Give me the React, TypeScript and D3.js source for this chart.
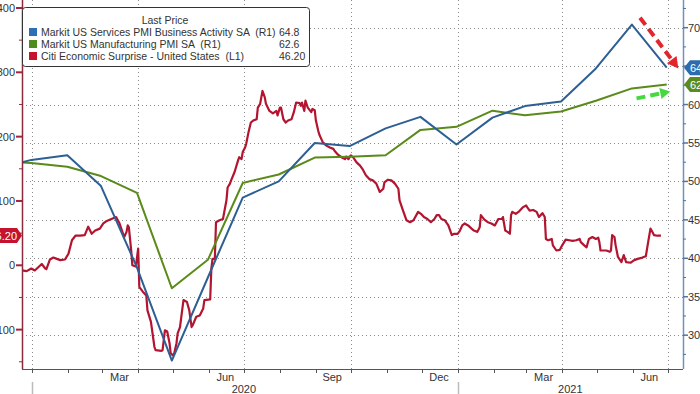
import React, { useEffect } from "react";
import * as d3 from "d3";

const W = 700;
const H = 394;

// Monthly PMI readings (plotted at month end)
const pmiDates = [
  "2019-11-30", "2019-12-31", "2020-01-31", "2020-02-29", "2020-03-31", "2020-04-30",
  "2020-05-31", "2020-06-30", "2020-07-31", "2020-08-31", "2020-09-30", "2020-10-31",
  "2020-11-30", "2020-12-31", "2021-01-31", "2021-02-28", "2021-03-31", "2021-04-30",
  "2021-05-31", "2021-06-30",
];
const servicesPMI = [51.6, 52.8, 53.4, 49.4, 38.8, 26.7, 37.5, 47.9, 50.0, 55.0, 54.6, 56.9, 58.4, 54.8, 58.3, 59.8, 60.4, 64.7, 70.4, 64.8];
const manufacturingPMI = [52.6, 52.4, 51.9, 50.7, 48.5, 36.1, 39.8, 49.8, 50.9, 53.1, 53.2, 53.4, 56.7, 57.1, 59.2, 58.6, 59.1, 60.5, 62.1, 62.6];

// Citi Economic Surprise Index - United States (daily)
const citiSurprise: [string, number][] = [
  ["2019-12-23", -8], ["2019-12-27", -9], ["2019-12-31", -5], ["2020-01-03", -8], ["2020-01-06", -3],
  ["2020-01-09", 2], ["2020-01-12", -5], ["2020-01-13", -6], ["2020-01-16", 9], ["2020-01-19", 12],
  ["2020-01-22", 10], ["2020-01-25", 8], ["2020-01-29", 9], ["2020-02-01", 18], ["2020-02-04", 39],
  ["2020-02-07", 46], ["2020-02-11", 46], ["2020-02-15", 47], ["2020-02-18", 60], ["2020-02-21", 49],
  ["2020-02-24", 54], ["2020-02-28", 57], ["2020-03-02", 65], ["2020-03-05", 69], ["2020-03-09", 72],
  ["2020-03-13", 75], ["2020-03-16", 65], ["2020-03-19", 49], ["2020-03-20", 44], ["2020-03-22", 52],
  ["2020-03-23", 62], ["2020-03-24", 59], ["2020-03-26", 23], ["2020-03-27", 0], ["2020-03-30", -2],
  ["2020-04-01", 26], ["2020-04-02", -34], ["2020-04-05", -41], ["2020-04-08", -47], ["2020-04-09", -70],
  ["2020-04-12", -88], ["2020-04-15", -127], ["2020-04-16", -132], ["2020-04-21", -133], ["2020-04-22", -132],
  ["2020-04-24", -101], ["2020-04-26", -103], ["2020-04-28", -121], ["2020-04-29", -137], ["2020-05-01", -140],
  ["2020-05-02", -137], ["2020-05-04", -121], ["2020-05-05", -106], ["2020-05-07", -96], ["2020-05-10", -54],
  ["2020-05-13", -57], ["2020-05-15", -70], ["2020-05-17", -96], ["2020-05-18", -93], ["2020-05-21", -80],
  ["2020-05-24", -78], ["2020-05-27", -67], ["2020-05-28", -54], ["2020-06-02", -53], ["2020-06-03", -5],
  ["2020-06-04", 10], ["2020-06-06", 10], ["2020-06-07", 67], ["2020-06-10", 70], ["2020-06-13", 72],
  ["2020-06-16", 101], ["2020-06-17", 121], ["2020-06-19", 127], ["2020-06-20", 132], ["2020-06-23", 145],
  ["2020-06-26", 163], ["2020-06-27", 168], ["2020-06-29", 165], ["2020-06-30", 176], ["2020-07-02", 183],
  ["2020-07-03", 189], ["2020-07-05", 207], ["2020-07-07", 222], ["2020-07-09", 225], ["2020-07-12", 227],
  ["2020-07-13", 245], ["2020-07-15", 251], ["2020-07-16", 261], ["2020-07-17", 271], ["2020-07-19", 261],
  ["2020-07-20", 251], ["2020-07-23", 240], ["2020-07-26", 236], ["2020-07-29", 240], ["2020-07-30", 233],
  ["2020-08-01", 245], ["2020-08-02", 245], ["2020-08-04", 227], ["2020-08-06", 222], ["2020-08-08", 225],
  ["2020-08-11", 227], ["2020-08-13", 238], ["2020-08-15", 253], ["2020-08-18", 252], ["2020-08-19", 248],
  ["2020-08-20", 253], ["2020-08-22", 240], ["2020-08-23", 256], ["2020-08-25", 245], ["2020-08-28", 238],
  ["2020-08-29", 243], ["2020-08-31", 241], ["2020-09-01", 225], ["2020-09-03", 209], ["2020-09-04", 203],
  ["2020-09-06", 195], ["2020-09-07", 191], ["2020-09-10", 186], ["2020-09-13", 183], ["2020-09-16", 181],
  ["2020-09-17", 178], ["2020-09-20", 172], ["2020-09-23", 168], ["2020-09-26", 165], ["2020-09-27", 169],
  ["2020-09-29", 165], ["2020-10-01", 171], ["2020-10-03", 168], ["2020-10-06", 160], ["2020-10-09", 155],
  ["2020-10-11", 150], ["2020-10-14", 140], ["2020-10-17", 134], ["2020-10-20", 132], ["2020-10-23", 127],
  ["2020-10-26", 114], ["2020-10-29", 119], ["2020-10-30", 129], ["2020-11-02", 133], ["2020-11-05", 132],
  ["2020-11-08", 127], ["2020-11-11", 119], ["2020-11-12", 101], ["2020-11-15", 85], ["2020-11-18", 70],
  ["2020-11-21", 67], ["2020-11-24", 70], ["2020-11-28", 83], ["2020-12-01", 79], ["2020-12-03", 75],
  ["2020-12-06", 72], ["2020-12-09", 67], ["2020-12-12", 72], ["2020-12-14", 78], ["2020-12-16", 78],
  ["2020-12-18", 72], ["2020-12-21", 70], ["2020-12-24", 62], ["2020-12-27", 47], ["2020-12-29", 49],
  ["2021-01-01", 49], ["2021-01-03", 54], ["2021-01-05", 62], ["2021-01-07", 65], ["2021-01-10", 62],
  ["2021-01-13", 57], ["2021-01-15", 54], ["2021-01-18", 52], ["2021-01-20", 59], ["2021-01-21", 78],
  ["2021-01-24", 71], ["2021-01-27", 67], ["2021-01-30", 65], ["2021-02-02", 62], ["2021-02-05", 72],
  ["2021-02-08", 72], ["2021-02-09", 75], ["2021-02-11", 54], ["2021-02-13", 52], ["2021-02-15", 49],
  ["2021-02-16", 78], ["2021-02-17", 83], ["2021-02-20", 80], ["2021-02-23", 84], ["2021-02-26", 90],
  ["2021-03-01", 93], ["2021-03-02", 90], ["2021-03-04", 85], ["2021-03-07", 86], ["2021-03-10", 83],
  ["2021-03-12", 75], ["2021-03-15", 81], ["2021-03-17", 75], ["2021-03-18", 41], ["2021-03-20", 39],
  ["2021-03-23", 41], ["2021-03-24", 31], ["2021-03-27", 23], ["2021-03-30", 24], ["2021-04-01", 31],
  ["2021-04-04", 40], ["2021-04-07", 39], ["2021-04-10", 38], ["2021-04-13", 39], ["2021-04-16", 41],
  ["2021-04-17", 36], ["2021-04-20", 31], ["2021-04-22", 28], ["2021-04-24", 41], ["2021-04-27", 44],
  ["2021-04-30", 41], ["2021-05-02", 43], ["2021-05-03", 36], ["2021-05-04", 23], ["2021-05-09", 23],
  ["2021-05-12", 21], ["2021-05-13", 23], ["2021-05-14", 47], ["2021-05-16", 44], ["2021-05-17", 31],
  ["2021-05-19", 13], ["2021-05-22", 5], ["2021-05-24", 16], ["2021-05-26", 5], ["2021-05-30", 4],
  ["2021-06-02", 8], ["2021-06-05", 10], ["2021-06-09", 12], ["2021-06-12", 14], ["2021-06-14", 36],
  ["2021-06-16", 57], ["2021-06-17", 54], ["2021-06-19", 47], ["2021-06-22", 46], ["2021-06-25", 46.2],
];

const leftTicks = [400, 300, 200, 100, 0, -100];
const leftMinorTicks = [350, 250, 150, 50, -50, -150];
const rightTicks = [70, 65, 60, 55, 50, 45, 40, 35, 30];
// 65 is hidden under the last-value tag in the reference
const rightTickLabels = [70, 60, 55, 50, 45, 40, 35, 30];
const rightMinorTicks = [72.5, 67.5, 62.5, 57.5, 52.5, 47.5, 42.5, 37.5, 32.5, 27.5];
const monthLabels = [
  ["2020-03-16", "Mar"], ["2020-06-15", "Jun"], ["2020-09-15", "Sep"], ["2020-12-16", "Dec"],
  ["2021-03-16", "Mar"], ["2021-06-15", "Jun"],
];
const yearLabels = [["2020-07-01", "2020"], ["2021-04-08", "2021"]];
const yearBreaks = ["2020-01-01", "2021-01-01"];

const legendItems = [
  { name: "Markit US Services PMI Business Activity SA  (R1)", value: "64.8", color: "#2f6fb3" },
  { name: "Markit US Manufacturing PMI SA  (R1)", value: "62.6", color: "#4f8c1b" },
  { name: "Citi Economic Surprise - United States  (L1)", value: "46.20", color: "#c4122f" },
];

const COL_BLUE = "#2d5f94";
const COL_GREEN = "#5a8a1a";
const COL_RED = "#b3142f";

const parse = d3.timeParse("%Y-%m-%d");
const FONT = "'Liberation Sans', Arial, sans-serif";

function Arrow({ x1, y1, x2, y2, color, width, head }: any) {
  const dx = x2 - x1, dy = y2 - y1;
  const len = Math.hypot(dx, dy);
  const ux = dx / len, uy = dy / len;
  const bx = x2 - ux * head, by = y2 - uy * head;
  const px = -uy, py = ux;
  const hw = head * 0.55;
  return (
    <g>
      <line x1={x1} y1={y1} x2={bx} y2={by} stroke={color} strokeWidth={width} strokeDasharray="9,5" />
      <polygon
        points={`${x2},${y2} ${bx + px * hw},${by + py * hw} ${bx - px * hw},${by - py * hw}`}
        fill={color}
      />
    </g>
  );
}

export default function App() {
  useEffect(() => {
    document.body.style.margin = "0";
  }, []);

  const left = 22, right = 683, top = 0, bottom = 369;
  const x = d3.scaleTime().domain([parse("2019-12-23")!, parse("2021-07-14")!]).range([left, right]);
  const yR = d3.scaleLinear().domain([25.6, 73.6]).range([bottom, top]);
  const yL = d3.scaleLinear().domain([-161.2, 412.4]).range([bottom, top]);

  const pmiD = pmiDates.map((d) => parse(d)!);
  const lineR = d3.line<number>().x((_, i) => x(pmiD[i])).y((v) => yR(v));
  const lineL = d3
    .line<[string, number]>()
    .x((d) => x(parse(d[0])!))
    .y((d) => yL(d[1]));

  const months = d3.timeMonth.range(parse("2020-01-01")!, parse("2021-07-02")!);
  const quarters = months.filter((m) => m.getMonth() % 3 === 0);

  // annotation arrows (anchored in data space)
  const redA = { x1: x(parse("2021-06-07")!), y1: yR(71.3), x2: x(parse("2021-07-10")!), y2: yR(64.7) };
  const greenA = { x1: x(parse("2021-06-04")!), y1: yR(60.8), x2: x(parse("2021-07-03")!), y2: yR(61.7) };

  const tag = (yv: number, color: string, label: string) => {
    const cy = yR(yv);
    return (
      <g key={label}>
        <polygon
          points={`${right + 1},${cy} ${right + 7},${cy - 7.5} ${W + 2},${cy - 7.5} ${W + 2},${cy + 7.5} ${right + 7},${cy + 7.5}`}
          fill={color}
        />
        <text x={right + 7} y={cy + 4} fill="#fff" fontSize={11}>{label}</text>
      </g>
    );
  };

  const lastCiti = citiSurprise[citiSurprise.length - 1][1];
  const lcy = yL(lastCiti);

  return (
    <svg
      width={W}
      height={H}
      viewBox={`0 0 ${W} ${H}`}
      style={{ position: "fixed", left: 0, top: 0, background: "#fff", fontFamily: FONT }}
    >
      <defs>
        <clipPath id="plot">
          <rect x={left} y={top} width={right - left} height={bottom - top} />
        </clipPath>
      </defs>
      <rect x={0} y={0} width={W} height={H} fill="#fff" />

      {/* gridlines */}
      <g stroke="#8c8c8c" strokeWidth={1} strokeDasharray="1,3">
        {rightTicks.map((t) => (
          <line key={"h" + t} x1={left} x2={right} y1={Math.round(yR(t)) + 0.5} y2={Math.round(yR(t)) + 0.5} />
        ))}
        {quarters.map((q) => (
          <line key={"v" + +q} x1={Math.round(x(q)) + 0.5} x2={Math.round(x(q)) + 0.5} y1={top} y2={bottom} />
        ))}
      </g>

      {/* series */}
      <g clipPath="url(#plot)" fill="none" strokeLinejoin="round">
        <path d={lineL(citiSurprise)!} stroke={COL_RED} strokeWidth={2.2} />
        <path d={lineR(manufacturingPMI)!} stroke={COL_GREEN} strokeWidth={2} />
        <path d={lineR(servicesPMI)!} stroke={COL_BLUE} strokeWidth={2} />
      </g>

      {/* bottom axis */}
      <line x1={left} x2={right} y1={bottom + 0.5} y2={bottom + 0.5} stroke="#555" strokeWidth={1} />
      {months.map((m) => (
        <line
          key={"t" + +m}
          x1={Math.round(x(m)) + 0.5}
          x2={Math.round(x(m)) + 0.5}
          y1={bottom}
          y2={bottom + 4}
          stroke="#555"
        />
      ))}
      {monthLabels.map(([d, l]) => (
        <text key={d} x={x(parse(d)!)} y={381} textAnchor="middle" fontSize={11} fill="#333">{l}</text>
      ))}
      {yearBreaks.map((d) => (
        <line key={d} x1={Math.round(x(parse(d)!)) + 0.5} x2={Math.round(x(parse(d)!)) + 0.5} y1={382} y2={H} stroke="#bbb" strokeWidth={1.5} />
      ))}
      {yearLabels.map(([d, l]) => (
        <text key={l} x={x(parse(d)!)} y={393} textAnchor="middle" fontSize={11} fill="#333">{l}</text>
      ))}

      {/* left axis */}
      <line x1={left + 0.5} x2={left + 0.5} y1={top} y2={bottom} stroke="#8a2a3c" strokeWidth={1.5} />
      {leftTicks.map((t) => (
        <g key={"l" + t}>
          <line x1={left - 6} x2={left} y1={yL(t)} y2={yL(t)} stroke="#a8223a" strokeWidth={2} />
          <text x={15} y={yL(t) + 4} textAnchor="end" fontSize={11} fill="#333">{t}</text>
        </g>
      ))}
      {leftMinorTicks.map((t) => (
        <line key={"lm" + t} x1={left - 3} x2={left} y1={yL(t)} y2={yL(t)} stroke="#a8223a" strokeWidth={1} />
      ))}

      {/* right axis */}
      <line x1={right + 0.5} x2={right + 0.5} y1={top} y2={bottom} stroke="#6f94bd" strokeWidth={1.5} />
      {rightTicks.map((t) => (
        <line key={"r" + t} x1={right} x2={right + 5} y1={yR(t)} y2={yR(t)} stroke="#4a76a8" strokeWidth={1.5} />
      ))}
      {rightTickLabels.map((t) => (
        <text key={"rl" + t} x={right + 5} y={yR(t) + 4} fontSize={11} fill="#333">{t}</text>
      ))}
      {rightMinorTicks.map((t) => (
        <line key={"rm" + t} x1={right} x2={right + 3} y1={yR(t)} y2={yR(t)} stroke="#4a76a8" strokeWidth={1} />
      ))}

      {/* last value tags */}
      {tag(servicesPMI[servicesPMI.length - 1], "#2c6cae", servicesPMI[servicesPMI.length - 1].toFixed(1))}
      {tag(manufacturingPMI[manufacturingPMI.length - 1], "#5b8b1c", manufacturingPMI[manufacturingPMI.length - 1].toFixed(1))}
      <g>
        <polygon
          points={`${left},${lcy} ${left - 5},${lcy - 7.5} ${-20},${lcy - 7.5} ${-20},${lcy + 7.5} ${left - 5},${lcy + 7.5}`}
          fill="#c4122f"
        />
        <text x={17} y={lcy + 4} textAnchor="end" fill="#fff" fontSize={11}>{lastCiti.toFixed(2)}</text>
      </g>

      {/* annotation arrows */}
      <Arrow {...redA} color="#e3262b" width={4} head={11} />
      <Arrow {...greenA} color="#45d940" width={4} head={10} />

      {/* legend */}
      <g>
        <rect x={22.5} y={7.5} width={287} height={59} rx={3} fill="#fff" stroke="#333" strokeWidth={1} />
        <text x={165} y={24} textAnchor="middle" fontSize={10.5} fill="#333">Last Price</text>
        {legendItems.map((it, i) => (
          <g key={it.name}>
            <rect x={29} y={28 + i * 12} width={8} height={8} fill={it.color} />
            <text x={41} y={36 + i * 12} fontSize={10.5} fill="#333" style={{ whiteSpace: "pre" }}>{it.name}</text>
            <text x={279} y={36 + i * 12} fontSize={10.5} fill="#333">{it.value}</text>
          </g>
        ))}
      </g>
    </svg>
  );
}
